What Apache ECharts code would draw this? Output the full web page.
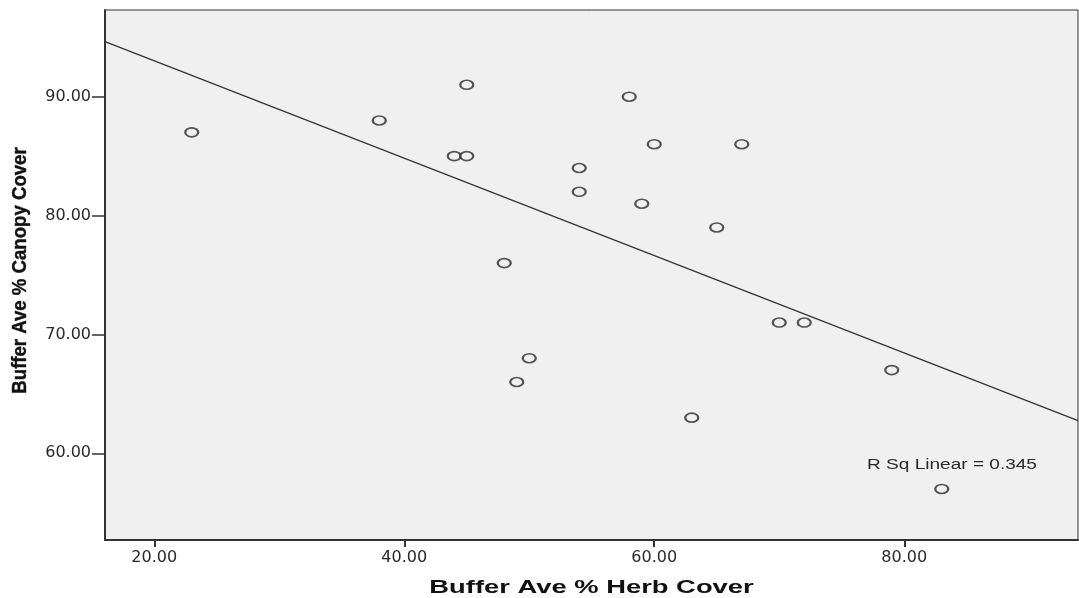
<!DOCTYPE html>
<html>
<head>
<meta charset="utf-8">
<script src="https://cdn.jsdelivr.net/npm/echarts@6/dist/echarts.min.js"></script>
<style>
  html, body { margin: 0; padding: 0; background: #ffffff; }
  #chart { width: 1079px; height: 598px; }
</style>
</head>
<body>
<div id="chart"></div>
<script>
// Buffer sites: herb cover vs canopy cover (%)
const herbCover   = [23, 38, 45, 44, 45, 58, 60, 67, 54, 54, 59, 65, 48, 70, 72, 50, 49, 63, 79, 83];
const canopyCover = [87, 88, 91, 85, 85, 90, 86, 86, 84, 82, 81, 79, 76, 71, 71, 68, 66, 63, 67, 57];
const xTicks = [20, 40, 60, 80];
const yTicks = [60, 70, 80, 90];
const xRange = [16.06, 93.9];
const yRange = [52.71, 97.29];
const xTitle = 'Buffer Ave % Herb Cover';
const yTitle = 'Buffer Ave % Canopy Cover';

// ordinary least squares fit of canopy on herb cover
function linearFit(xs, ys) {
  const n = xs.length;
  const mx = xs.reduce((a, b) => a + b, 0) / n;
  const my = ys.reduce((a, b) => a + b, 0) / n;
  let sxy = 0, sxx = 0, syy = 0;
  for (let i = 0; i < n; i++) {
    sxy += (xs[i] - mx) * (ys[i] - my);
    sxx += (xs[i] - mx) ** 2;
    syy += (ys[i] - my) ** 2;
  }
  const slope = sxy / sxx;
  return { slope, intercept: my - slope * mx, r2: (sxy * sxy) / (sxx * syy) };
}
const fit = linearFit(herbCover, canopyCover);
const fitLine = xRange.map(x => [x, fit.intercept + fit.slope * x]);

const points = herbCover.map((x, i) => [x, canopyCover[i]]);
const tickFont = { fontFamily: 'DejaVu Sans', fontSize: 16, color: '#2a2a2a' };

const chart = echarts.init(document.getElementById('chart'), null, { renderer: 'canvas' });
chart.setOption({
  animation: false,
  backgroundColor: '#ffffff',
  grid: {
    left: 105, right: 1, top: 10, bottom: 58,
    outerBoundsMode: 'none',
    containLabel: false,
    show: true, backgroundColor: '#f0f0f0',
    borderColor: '#333', borderWidth: 1
  },
  xAxis: {
    type: 'value',
    min: xRange[0], max: xRange[1],
    axisLine: { show: true, lineStyle: { color: '#333', width: 2 } },
    axisTick: { show: true, length: 7, customValues: xTicks, lineStyle: { color: '#333', width: 2 } },
    axisLabel: Object.assign({ customValues: xTicks, margin: 10, formatter: v => v.toFixed(2) }, tickFont),
    splitLine: { show: false }
  },
  yAxis: {
    type: 'value',
    min: yRange[0], max: yRange[1],
    axisLine: { show: true, lineStyle: { color: '#333', width: 2 } },
    axisTick: { show: true, length: 13, customValues: yTicks, lineStyle: { color: '#333', width: 1.5 } },
    axisLabel: Object.assign({ customValues: yTicks, margin: 14, formatter: v => v.toFixed(2) }, tickFont),
    splitLine: { show: false }
  },
  graphic: [
    {
      // x axis title, set in a wide bold face
      type: 'text',
      x: 591.5, y: 588, scaleX: 1.52,
      style: {
        text: xTitle,
        font: 'bold 18px "Liberation Sans"',
        fill: '#111',
        textAlign: 'center', textVerticalAlign: 'middle'
      }
    },
    {
      // y axis title, condensed bold, reading bottom to top
      type: 'text',
      x: 20, y: 270.5, rotation: Math.PI / 2, scaleX: 0.93,
      style: {
        text: yTitle,
        font: 'bold 20px "Liberation Sans"',
        fill: '#111',
        stroke: '#111', lineWidth: 0.4,
        textAlign: 'center', textVerticalAlign: 'middle'
      }
    },
    {
      type: 'text',
      x: 952, y: 465, scaleX: 1.36,
      style: {
        text: 'R Sq Linear = ' + fit.r2.toFixed(3),
        font: '14px "Liberation Sans"',
        fill: '#2a2a2a',
        textAlign: 'center', textVerticalAlign: 'middle'
      }
    }
  ],
  series: [
    {
      type: 'line',
      data: fitLine,
      showSymbol: false,
      symbol: 'none',
      lineStyle: { color: '#333', width: 1.2 },
      z: 2
    },
    {
      type: 'scatter',
      data: points,
      symbol: 'circle',
      symbolSize: [13, 9],
      itemStyle: { color: '#f0f0f0', borderColor: '#2a2a2a', borderWidth: 1.9 },
      z: 3
    }
  ]
});
</script>
</body>
</html>
